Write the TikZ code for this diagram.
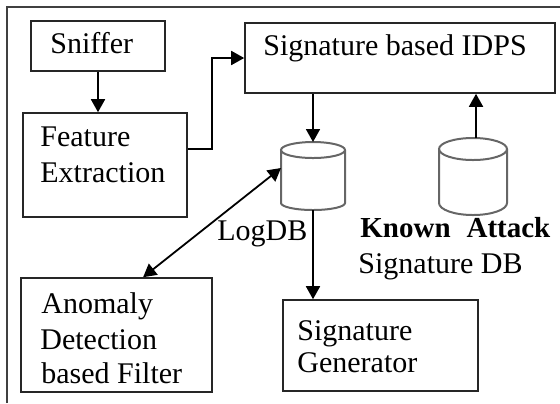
\documentclass[tikz,border=0pt]{standalone}
\usepackage{fontspec}
\setmainfont{Liberation Serif}
\usetikzlibrary{arrows.meta,fit}
\begin{document}
\begin{tikzpicture}[x=0.5pt,y=-0.5pt,
  box/.style={draw=black!85,line width=0.8pt,inner sep=0pt},
  txt/.style={anchor=base west,inner sep=0pt,font=\fontsize{15}{18}\selectfont},
  arr/.style={line width=0.9pt,-{Triangle[length=6.5pt,width=7pt]}},
  darr/.style={line width=0.9pt,{Triangle[length=6.5pt,width=7pt]}-{Triangle[length=6.5pt,width=7pt]}},
  cyl/.style={draw=black!60,line width=1pt}]
\useasboundingbox (0,0) rectangle (560,403);
% outer frame
\draw[line width=1pt,black!75] (7,403) -- (7,7) -- (560,7);
% boxes
\node[box,fit={(31,21)(165,71)}] (sniffer) {};
\node[box,fit={(23,113)(187,217)}] (feat) {};
\node[box,fit={(245,23)(555,93)}] (idps) {};
\node[box,fit={(21,278)(212,392)}] (anom) {};
\node[box,fit={(283,300)(478,391)}] (siggen) {};
% texts
\node[txt] (tsniffer) at (50,53) {Sniffer};
\node[txt] (tfeat1) at (40,146) {Feature};
\node[txt] (tfeat2) at (40,182) {Extraction};
\node[txt] (tidps) at (263,55) {Signature based IDPS};
\node[txt] (tanom1) at (41,313) {Anomaly};
\node[txt] (tanom2) at (40,349) {Detection};
\node[txt] (tanom3) at (41,383) {based Filter};
\node[txt] (tsg1) at (297,340) {Signature};
\node[txt] (tsg2) at (297,372) {Generator};
\node[txt] (tlog) at (217,240) {LogDB};
\node[txt,font=\fontsize{14.5}{18}\selectfont\bfseries] (tka1) at (360,237) {Known\hspace{0.55em}Attack};
\node[txt] (tka2) at (358,273) {Signature DB};
% LogDB cylinder
\draw[cyl] (313,150) ellipse [x radius=16pt,y radius=4pt];
\draw[cyl] (281,150) -- (281,203) arc [start angle=180,end angle=360,x radius=16pt,y radius=3.5pt] -- (345,150);
% Known attack cylinder
\draw[cyl] (473,149) ellipse [x radius=17pt,y radius=5.5pt];
\draw[cyl] (439,149) -- (439,203) arc [start angle=180,end angle=360,x radius=17pt,y radius=6pt] -- (507,149);
\coordinate (logtop) at (313,142);
\coordinate (logbot) at (313,210);
\coordinate (logside) at (281,168);
\coordinate (kadtop) at (476,138);
% connectors
\draw[arr] (sniffer.south) -- (sniffer.south |- feat.north);
\draw[arr] ([yshift=8pt]feat.east) -- ++(12pt,0) |- (idps.west);
\draw[arr] (idps.south -| logtop) -- (logtop);
\draw[arr] (kadtop) -- (kadtop |- idps.south);
\draw[arr] (logbot) -- (logbot |- siggen.north);
\draw[darr] (logside) -- ([xshift=13.3pt]anom.north);
\end{tikzpicture}
\end{document}
